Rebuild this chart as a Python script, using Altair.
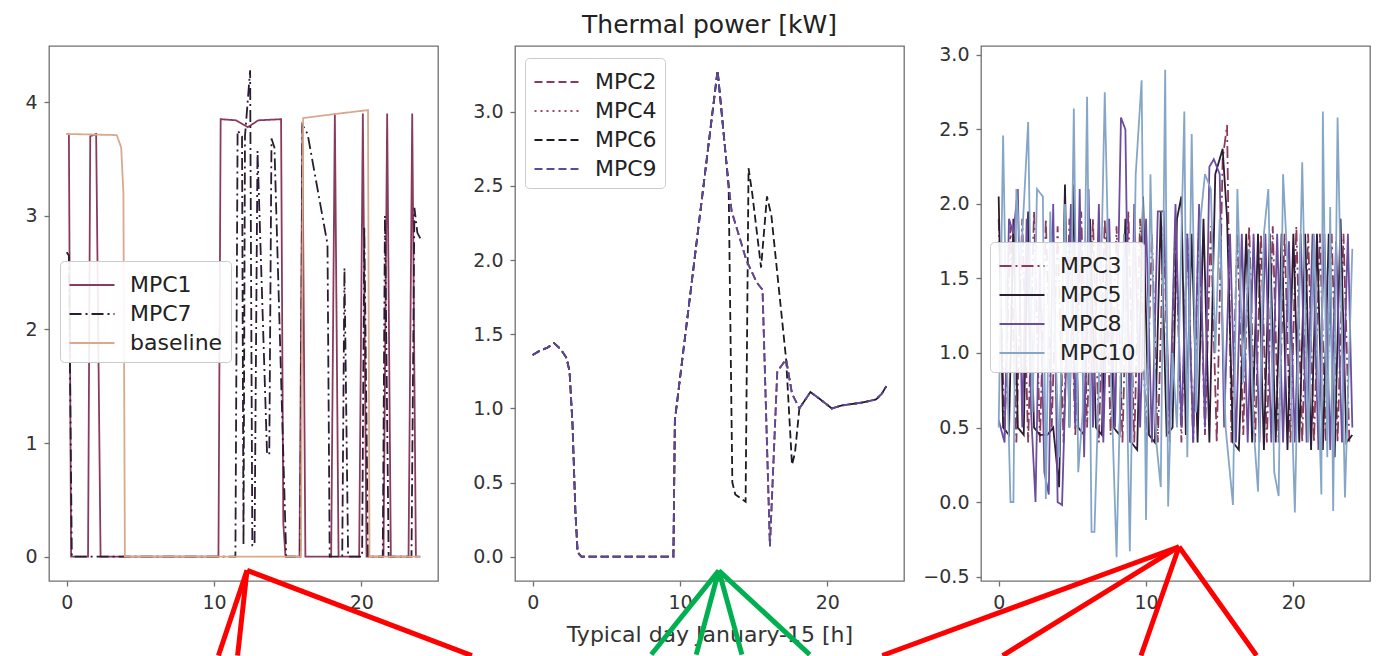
import altair as alt
import pandas as pd

# ---------------- data (hours, kW) ----------------
X_TICKS = [0, 10, 20]
X_DOMAIN = [-1.2, 25.2]

# Panel 1
P1_NAMES = ["MPC1", "MPC7", "baseline"]
P1_COLORS = ["#8a3a5c", "#2b1b33", "#d9a98c"]
P1_DASHES = [[1, 0], [12, 4, 2, 4], [1, 0]]
P1_Y_TICKS = [0, 1, 2, 3, 4]
P1_Y_DOMAIN = [-0.214, 4.494]

MPC1 = [(0.0, 3.72), (0.15, 3.72), (0.3, 0.0), (1.45, 0.0), (1.6, 3.7), (2.0, 3.72), (2.3, 0.0),
        (10.3, 0.0), (10.45, 3.85), (11.5, 3.84), (12.3, 3.78), (13.0, 3.84), (14.55, 3.85),
        (14.7, 0.3), (14.85, 0.0), (15.8, 0.0), (16.0, 3.8), (16.2, 0.0), (17.95, 0.0),
        (18.2, 3.9), (18.45, 0.0), (19.85, 0.0), (20.1, 3.9), (20.35, 0.0), (21.5, 0.0),
        (21.75, 3.9), (22.0, 0.0), (23.2, 0.0), (23.45, 3.9), (23.7, 0.0), (24.0, 0.0)]
MPC7 = [(0.0, 2.68), (0.15, 2.65), (0.35, 0.0), (11.45, 0.0), (11.6, 3.75), (11.9, 3.7),
        (12.0, 0.1), (12.1, 3.7), (12.45, 4.28), (12.6, 0.1), (12.75, 0.1), (12.95, 3.57),
        (13.6, 0.9), (13.75, 0.9), (13.9, 3.68), (14.1, 3.6), (14.9, 0.0), (15.85, 0.0),
        (16.0, 3.8), (16.35, 3.72), (17.7, 2.75), (17.85, 0.0), (18.7, 0.0), (18.85, 2.54),
        (19.1, 0.0), (20.05, 0.0), (20.2, 2.9), (20.45, 0.0), (21.45, 0.0), (21.6, 3.0),
        (21.85, 0.0), (23.4, 0.0), (23.6, 3.07), (23.8, 2.85), (24.0, 2.8)]
BASELINE = [(0.0, 3.72), (3.4, 3.71), (3.7, 3.6), (3.85, 3.2), (3.95, 0.0), (15.9, 0.0),
            (16.05, 3.86), (18.5, 3.9), (20.45, 3.93), (20.55, 0.0), (24.0, 0.0)]

# Panel 2
P2_NAMES = ["MPC2", "MPC4", "MPC6", "MPC9"]
P2_COLORS = ["#8a3a5c", "#a04a5e", "#1e1a24", "#5b4a9b"]
P2_DASHES = [[8, 4], [2, 4], [8, 4], [8, 4]]
P2_Y_TICKS = [0.0, 0.5, 1.0, 1.5, 2.0, 2.5, 3.0]
P2_Y_DOMAIN = [-0.164, 3.444]

MPC2 = [(0.0, 1.36), (0.5, 1.39), (1.0, 1.41), (1.45, 1.44), (1.9, 1.40), (2.3, 1.34), (2.5, 1.25),
        (2.7, 0.9), (2.9, 0.3), (3.05, 0.03), (3.3, 0.0), (9.55, 0.0), (9.65, 0.92), (12.55, 3.28),
        (13.3, 2.5), (13.5, 2.33), (14.2, 2.1), (14.5, 2.0), (15.2, 1.85), (15.6, 1.8), (16.1, 0.07),
        (16.6, 1.25), (17.2, 1.33), (17.6, 1.1), (18.1, 1.0), (18.85, 1.11), (19.4, 1.07),
        (20.3, 1.0), (21.0, 1.02), (22.4, 1.04), (23.3, 1.06), (23.7, 1.1), (24.0, 1.15)]
MPC4 = [(0.0, 1.36), (0.5, 1.39), (1.0, 1.41), (1.45, 1.44), (1.9, 1.40), (2.3, 1.34), (2.5, 1.25),
        (2.7, 0.9), (2.9, 0.3), (3.05, 0.03), (3.3, 0.0), (9.55, 0.0), (9.65, 0.92), (12.55, 3.28),
        (13.3, 2.5), (13.5, 2.33), (14.2, 2.1), (14.5, 2.0), (15.2, 1.85), (15.6, 1.8), (16.1, 0.07),
        (16.6, 1.25), (17.2, 1.33), (17.6, 1.1), (18.1, 1.0), (18.85, 1.11), (19.4, 1.07),
        (20.3, 1.0), (21.0, 1.02), (22.4, 1.04), (23.3, 1.06), (23.7, 1.1), (24.0, 1.15)]
MPC6 = [(0.0, 1.36), (0.5, 1.39), (1.0, 1.41), (1.45, 1.44), (1.9, 1.40), (2.3, 1.34), (2.5, 1.25),
        (2.7, 0.9), (2.9, 0.3), (3.05, 0.03), (3.3, 0.0), (9.55, 0.0), (9.65, 0.92), (12.55, 3.28),
        (13.3, 2.5), (13.55, 0.5), (13.75, 0.42), (14.45, 0.37), (14.65, 2.62), (14.9, 2.45),
        (15.5, 1.95), (15.9, 2.43), (16.2, 2.3), (17.2, 1.33), (17.6, 0.62), (17.8, 0.7),
        (18.1, 1.0), (18.85, 1.11), (19.4, 1.07), (20.3, 1.0), (21.0, 1.02), (22.4, 1.04),
        (23.3, 1.06), (23.7, 1.1), (24.0, 1.15)]
MPC9 = [(0.0, 1.36), (0.5, 1.39), (1.0, 1.41), (1.45, 1.44), (1.9, 1.40), (2.3, 1.34), (2.5, 1.25),
        (2.7, 0.9), (2.9, 0.3), (3.05, 0.03), (3.3, 0.0), (9.55, 0.0), (9.65, 0.92), (12.55, 3.28),
        (13.3, 2.5), (13.5, 2.33), (14.2, 2.1), (14.5, 2.0), (15.2, 1.85), (15.6, 1.8), (16.1, 0.07),
        (16.6, 1.25), (17.2, 1.33), (17.6, 1.1), (18.1, 1.0), (18.85, 1.11), (19.4, 1.07),
        (20.3, 1.0), (21.0, 1.02), (22.4, 1.04), (23.3, 1.06), (23.7, 1.1), (24.0, 1.15)]

# Panel 3
P3_NAMES = ["MPC3", "MPC5", "MPC8", "MPC10"]
P3_COLORS = ["#8a3a5c", "#2b1b33", "#6b4c9e", "#86a6c8"]
P3_DASHES = [[12, 4, 2, 4], [1, 0], [1, 0], [1, 0]]
P3_Y_TICKS = [-0.5, 0.0, 0.5, 1.0, 1.5, 2.0, 2.5, 3.0]
P3_Y_DOMAIN = [-0.53, 3.06]

MPC3 = [(0, 1.9), (0.4, 0.45), (0.8, 1.85), (1.2, 0.4), (1.6, 1.9), (2.0, 0.4), (2.4, 1.95),
        (2.8, 0.4), (3.2, 1.9), (3.6, 0.5), (4.0, 1.85), (4.4, 0.4), (4.8, 1.9), (5.2, 0.45),
        (5.6, 1.95), (6.0, 0.5), (6.4, 1.9), (6.8, 0.4), (7.2, 1.9), (7.6, 0.45), (8.0, 1.85),
        (8.4, 0.4), (8.8, 1.95), (9.2, 0.4), (9.6, 1.9), (10.0, 0.4), (10.4, 1.8), (10.8, 0.4),
        (11.2, 1.85), (11.6, 0.4), (12.0, 1.9), (12.4, 0.4), (12.8, 1.8), (13.2, 0.4), (13.6, 1.9),
        (14.0, 0.45), (14.4, 1.85), (14.8, 0.4), (15.2, 2.3), (15.5, 2.53), (15.8, 0.4),
        (16.2, 1.8), (16.6, 0.45), (17.0, 1.85), (17.4, 0.4), (17.8, 1.8), (18.2, 0.4),
        (18.6, 1.85), (19.0, 0.4), (19.4, 1.8), (19.8, 0.4), (20.2, 1.85), (20.6, 0.4),
        (21.0, 1.8), (21.4, 0.4), (21.8, 1.8), (22.2, 0.4), (22.6, 1.8), (23.0, 0.4),
        (23.4, 1.8), (23.8, 0.4), (24.0, 0.4)]
MPC5 = [(0, 2.05), (0.3, 0.5), (0.7, 0.45), (1.0, 1.9), (1.3, 0.5), (1.7, 0.45), (2.0, 1.95),
        (2.4, 0.5), (2.8, 0.45), (3.3, 0.45), (3.7, 0.5), (4.1, 0.1), (4.5, 2.13), (4.8, 0.5),
        (5.1, 2.13), (5.4, 0.5), (5.8, 0.45), (6.2, 1.9), (6.6, 0.5), (7.0, 0.45), (7.4, 1.9),
        (7.8, 0.5), (8.2, 0.45), (8.6, 1.9), (9.0, 0.4), (9.4, 0.35), (9.8, 2.05), (10.2, 0.45),
        (10.6, 0.4), (11.0, 1.95), (11.4, 0.45), (11.8, 0.5), (12.1, 1.9), (12.4, 2.05),
        (12.7, 0.45), (13.1, 1.8), (13.5, 0.4), (13.9, 1.9), (14.3, 0.4), (14.7, 2.2),
        (15.2, 2.37), (15.5, 1.9), (15.9, 0.4), (16.3, 0.35), (16.8, 1.8), (17.2, 0.4),
        (17.6, 1.8), (18.0, 0.35), (18.4, 1.8), (18.8, 0.4), (19.2, 1.8), (19.6, 0.35),
        (20.0, 1.8), (20.4, 0.4), (20.8, 1.8), (21.2, 0.35), (21.6, 1.8), (22.0, 0.35),
        (22.4, 1.8), (22.8, 0.3), (23.2, 1.9), (23.6, 0.4), (24.0, 0.45)]
MPC8 = [(0, 0.55), (0.4, 0.4), (0.7, 1.9), (1.0, 1.8), (1.3, 2.1), (1.6, 0.5), (1.9, 1.9),
        (2.2, 0.6), (2.5, 0.0), (2.8, 1.6), (3.1, 0.2), (3.4, 0.05), (3.7, 2.0), (4.0, 0.0),
        (4.3, -0.02), (4.6, 1.0), (4.9, 2.0), (5.2, 0.5), (5.5, 2.1), (5.8, 0.3), (6.1, 2.1),
        (6.4, 0.5), (6.8, 2.0), (7.1, 0.4), (7.5, 1.9), (7.9, 0.5), (8.3, 2.58), (8.6, 2.5),
        (8.9, 0.4), (9.2, 2.0), (9.6, 0.5), (10.0, 1.9), (10.4, 0.4), (10.8, 1.95), (11.2, 1.95),
        (11.6, 0.5), (12.0, 2.0), (12.4, 0.5), (12.8, 1.8), (13.2, 0.4), (13.6, 2.0), (14.0, 0.5),
        (14.3, 2.25), (14.6, 2.3), (15.0, 2.2), (15.3, 0.5), (15.7, 1.8), (16.1, 0.4), (16.5, 1.8),
        (16.9, 0.4), (17.3, 1.8), (17.7, 0.4), (18.1, 1.8), (18.5, 0.4), (18.9, 1.8), (19.3, 0.4),
        (19.7, 1.75), (20.1, 0.4), (20.5, 1.8), (20.9, 0.4), (21.3, 1.8), (21.7, 0.35),
        (22.1, 1.8), (22.5, 0.35), (22.9, 1.75), (23.3, 0.4), (23.7, 1.8), (24.0, 0.5)]
MPC10 = [(0.0, 0.5), (0.3, 2.46), (0.55, 1.0), (0.8, 0.0), (1.0, 0.0), (1.2, 2.1), (1.5, 1.6),
         (2.0, 2.55), (2.3, 0.6), (2.6, 2.1), (3.0, 2.05), (3.2, 0.02), (3.5, 1.95), (3.8, 1.2),
         (4.1, 0.3), (4.5, 2.0), (4.8, 0.5), (5.1, 2.64), (5.4, 0.2), (5.7, 0.6), (6.0, 2.72),
         (6.3, -0.2), (6.5, -0.2), (6.8, 0.8), (7.2, 2.75), (7.6, 0.9), (8.0, -0.37), (8.5, 1.8),
         (8.9, -0.33), (9.3, 2.2), (9.7, 2.83), (10.0, -0.12), (10.3, 2.2), (10.7, 0.4),
         (11.0, 0.1), (11.3, 2.9), (11.5, -0.03), (11.8, 1.0), (12.1, 0.5), (12.6, 2.62),
         (12.8, 0.3), (13.1, 2.47), (13.4, 0.6), (13.7, 1.9), (14.0, 2.2), (14.4, 2.1),
         (14.7, 1.0), (15.0, 1.9), (15.4, 0.5), (15.9, -0.02), (16.2, 2.1), (16.6, 0.8),
         (17.0, 1.7), (17.3, 0.5), (17.6, 0.07), (18.0, 1.8), (18.3, 2.1), (18.7, 0.2),
         (19.0, 0.04), (19.3, 2.2), (19.6, 1.6), (20.1, -0.07), (20.6, 2.28), (21.0, 0.4),
         (21.4, 1.8), (21.9, 0.05), (22.0, 2.62), (22.3, 0.3), (22.5, 1.98), (22.7, -0.06),
         (23.0, 2.58), (23.5, 0.03), (24.0, 1.7)]

# Annotation pointers (apex and end points, in each panel's data units)
P1_APEX = (12.24, -0.12)
P1_ENDS = [(10.3, -0.87), (11.6, -0.87), (27.5, -0.87)]
P2_APEX = (12.63, -0.094)
P2_ENDS = [(8.05, -0.66), (11.1, -0.66), (14.2, -0.66), (18.8, -0.66)]
P3_APEX = (12.24, -0.30)
P3_ENDS = [(-7.9, -1.03), (0.27, -1.03), (9.66, -1.03), (17.5, -1.03)]

FONT = "DejaVu Sans"


def series_df(named):
    rows = []
    for name, pairs in named:
        for i, (h, v) in enumerate(pairs):
            rows.append({"series": name, "h": h, "v": v, "i": i})
    return pd.DataFrame(rows)


def panel(named, colors, dashes, ydom, yvals, yfmt, legx, legy, apex, ends, acolor,
          width, title=None, xtitle=None):
    names = [n for n, _ in named]
    df = series_df(named)
    xsc = alt.Scale(domain=X_DOMAIN, nice=False, zero=False)
    ysc = alt.Scale(domain=ydom, nice=False, zero=False)
    leg = alt.Legend(title=None, orient="none", legendX=legx, legendY=legy,
                     symbolType="M-1.5,0L1.5,0", symbolSize=900, symbolStrokeWidth=2,
                     labelFontSize=22, labelFont=FONT, labelColor="#222",
                     padding=8, rowPadding=2, symbolOffset=8, labelOffset=22,
                     fillColor="rgba(255,255,255,0.9)", strokeColor="#cccccc",
                     cornerRadius=4)
    xaxis = alt.Axis(values=X_TICKS, format="d", title=xtitle)
    yaxis = alt.Axis(values=yvals, format=yfmt, title=None)
    base = alt.Chart(df)
    layers = []
    for n in names:
        layers.append(
            base.transform_filter(alt.datum.series == n)
            .mark_line(strokeWidth=1.8)
            .encode(
                x=alt.X("h:Q", scale=xsc, axis=xaxis),
                y=alt.Y("v:Q", scale=ysc, axis=yaxis),
                color=alt.Color("series:N", scale=alt.Scale(domain=names, range=colors), legend=leg),
                strokeDash=alt.StrokeDash("series:N", scale=alt.Scale(domain=names, range=dashes), legend=leg),
                order="i:Q",
            )
        )
    ann = pd.DataFrame([{"h0": apex[0], "v0": apex[1], "h1": e[0], "v1": e[1]} for e in ends])
    rule = alt.Chart(ann).mark_rule(color=acolor, strokeWidth=5, clip=False).encode(
        x=alt.X("h0:Q", scale=xsc, axis=xaxis),
        y=alt.Y("v0:Q", scale=ysc, axis=yaxis),
        x2="h1:Q",
        y2="v1:Q",
    )
    ch = alt.layer(*layers, rule).properties(width=width, height=535)
    if title:
        ch = ch.properties(title=alt.Title(title, anchor="middle"))
    return ch


p1 = panel([("MPC1", MPC1), ("MPC7", MPC7), ("baseline", BASELINE)], P1_COLORS, P1_DASHES,
           P1_Y_DOMAIN, P1_Y_TICKS, "d", 11, 215, P1_APEX, P1_ENDS, "#ff0000", 389)
p2 = panel([("MPC2", MPC2), ("MPC4", MPC4), ("MPC6", MPC6), ("MPC9", MPC9)], P2_COLORS, P2_DASHES,
           P2_Y_DOMAIN, P2_Y_TICKS, ".1f", 10, 12, P2_APEX, P2_ENDS, "#00b050", 389,
           title="Thermal power [kW]", xtitle="Typical day January-15 [h]")
p3 = panel([("MPC3", MPC3), ("MPC5", MPC5), ("MPC8", MPC8), ("MPC10", MPC10)], P3_COLORS, P3_DASHES,
           P3_Y_DOMAIN, P3_Y_TICKS, ".1f", 9, 196, P3_APEX, P3_ENDS, "#ff0000", 389)

chart = (
    alt.hconcat(p1, p2, p3, spacing=77, bounds="flush")
    .resolve_scale(x="independent", y="independent", color="independent", strokeDash="independent")
    .resolve_legend(color="independent", strokeDash="independent")
    .properties(padding={"left": 16, "top": 4, "right": 4, "bottom": 0})
    .configure_view(stroke="#707070", strokeWidth=1.3)
    .configure_axis(labelFont=FONT, labelFontSize=19, labelColor="#333", tickColor="#707070",
                    tickWidth=1.3, tickSize=5, domain=False, grid=False, labelPadding=7,
                    titleFont=FONT, titleFontSize=22, titleColor="#333", titleFontWeight="normal",
                    titlePadding=12)
    .configure_title(font=FONT, fontSize=25, fontWeight="normal", color="#222", offset=8)
)

chart.save("out.html", embed_options={"renderer": "svg", "actions": False})
